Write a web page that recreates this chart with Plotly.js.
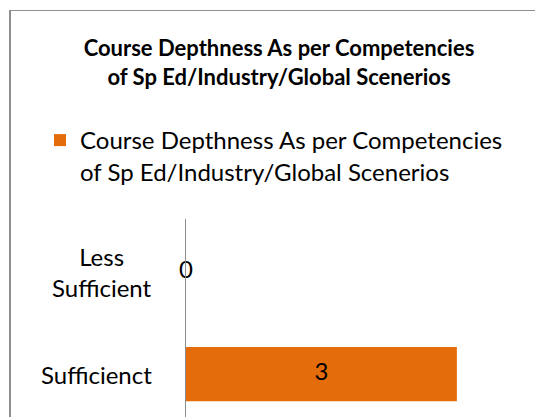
<!DOCTYPE html>
<html>
<head>
<meta charset="utf-8">
<script src="https://cdn.plot.ly/plotly-3.0.1.min.js"></script>
<style>
    html, body { margin:0; padding:0; background:#ffffff; overflow:hidden; }
    #wrap { position:relative; width:535px; height:417px; }
    #chart { position:absolute; left:0; top:0; width:535px; height:417px; }
    #frame {
        position:absolute; left:9px; top:10px; width:530px; height:420px;
        border-top:1px solid #8f8f8f; border-left:2px solid #8f8f8f;
        pointer-events:none;
    }
</style>
</head>
<body>
<div id="wrap">
    <div id="chart"></div>
    <div id="frame"></div>
</div>
<script>

/* ==========================================
   DATA
========================================== */

const chartTitle = "Course Depthness As per Competencies<br>of Sp Ed/Industry/Global Scenerios";

const seriesName = "Course Depthness As per Competencies<br>of Sp Ed/Industry/Global Scenerios";

const categories = ["Less Sufficient", "Sufficienct"];

const tickLabels = ["Less<br>Sufficient", "Sufficienct"];

const values = [0, 3];


/* ==========================================
   DRAW
========================================== */

function drawChart(){

    const font = "Lato, 'Open Sans', sans-serif";

    const barTrace = {
        type:"bar",
        orientation:"h",
        x:values,
        y:categories,
        name:seriesName,
        marker:{ color:"#E46C0A" },
        hoverinfo:"x+y"
    };

    // value labels sit in the middle of each bar
    const labelTrace = {
        type:"scatter",
        mode:"text",
        x:values.map(v=>v/2),
        y:categories,
        text:values.map(v=>String(v)),
        textposition:"middle center",
        textfont:{ family:font, size:24, color:"#000000" },
        cliponaxis:false,
        showlegend:false,
        hoverinfo:"skip"
    };

    const tickNotes = categories.map((c,i)=>{
        return {
            xref:"paper",
            yref:"y",
            x:-0.1,
            y:c,
            xanchor:"right",
            yanchor:"middle",
            align:"center",
            showarrow:false,
            text:tickLabels[i],
            font:{ family:font, size:24, color:"#000000" }
        };
    });

    Plotly.newPlot(
        "chart",
        [barTrace, labelTrace],
        {
            width:535,
            height:417,
            paper_bgcolor:"rgba(0,0,0,0)",
            plot_bgcolor:"rgba(0,0,0,0)",
            margin:{ l:186, r:33, t:219, b:0, pad:0, autoexpand:false },
            title:{
                text:chartTitle,
                font:{ family:font, size:22, color:"#000000", weight:"bold" },
                xref:"container",
                yref:"container",
                x:279/535,
                xanchor:"center",
                y:1-56/417,
                yanchor:"top"
            },
            showlegend:true,
            legend:{
                xref:"container",
                yref:"container",
                x:40/535,
                xanchor:"left",
                y:1-118/417,
                yanchor:"top",
                valign:"top",
                font:{ family:font, size:24, color:"#000000" },
                bgcolor:"rgba(0,0,0,0)"
            },
            bargap:0.47,
            xaxis:{
                range:[0,3.5],
                showgrid:false,
                zeroline:false,
                showline:false,
                showticklabels:false,
                ticks:""
            },
            yaxis:{
                type:"category",
                range:[1.42,-0.52],
                showgrid:false,
                zeroline:false,
                showline:true,
                linecolor:"#8c8c8c",
                linewidth:1.5,
                showticklabels:false,
                ticks:""
            },
            annotations:tickNotes
        },
        {
            displayModeBar:false,
            staticPlot:true
        }
    );

}

drawChart();

</script>
</body>
</html>
